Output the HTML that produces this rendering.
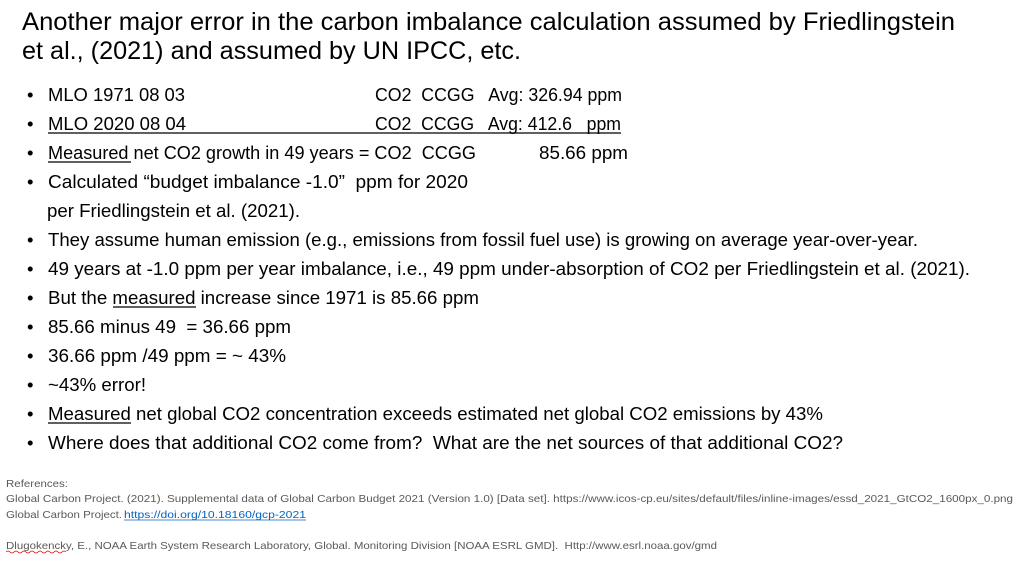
<!DOCTYPE html>
<html><head><meta charset="utf-8"><style>
html,body{margin:0;padding:0;background:#fff;}
svg{display:block;}
text{font-family:"Liberation Sans",sans-serif;fill:#000;white-space:pre;}
.t{font-size:25px;}
.b{font-size:18.5px;}
.r{font-size:10.5px;fill:#595959;}
</style></head><body>
<svg width="1023" height="563" viewBox="0 0 1023 563" xmlns="http://www.w3.org/2000/svg" xml:space="preserve">
<text class="t" x="22" y="30" textLength="933" lengthAdjust="spacingAndGlyphs">Another major error in the carbon imbalance calculation assumed by Friedlingstein</text>
<text class="t" x="22" y="59" textLength="499" lengthAdjust="spacingAndGlyphs">et al., (2021) and assumed by UN IPCC, etc.</text>
<text class="b" x="27" y="101">•</text>
<text class="b" x="48" y="101" textLength="137" lengthAdjust="spacingAndGlyphs">MLO 1971 08 03</text>
<text class="b" x="375" y="101" textLength="247" lengthAdjust="spacingAndGlyphs">CO2  CCGG   Avg: 326.94 ppm</text>
<text class="b" x="27" y="130">•</text>
<text class="b" x="48" y="130" textLength="138" lengthAdjust="spacingAndGlyphs">MLO 2020 08 04</text>
<text class="b" x="375" y="130" textLength="246" lengthAdjust="spacingAndGlyphs">CO2  CCGG   Avg: 412.6   ppm</text>
<line x1="48" y1="133" x2="621" y2="133" stroke="#000" stroke-width="1.2"/>
<text class="b" x="27" y="159">•</text>
<text class="b" x="48" y="159" textLength="428" lengthAdjust="spacingAndGlyphs">Measured net CO2 growth in 49 years = CO2  CCGG</text>
<line x1="48" y1="162" x2="131" y2="162" stroke="#000" stroke-width="1.2"/>
<text class="b" x="539" y="159" textLength="89" lengthAdjust="spacingAndGlyphs">85.66 ppm</text>
<text class="b" x="27" y="188">•</text>
<text class="b" x="48" y="188" textLength="420" lengthAdjust="spacingAndGlyphs">Calculated “budget imbalance -1.0”  ppm for 2020</text>
<text class="b" x="47" y="217" textLength="253" lengthAdjust="spacingAndGlyphs">per Friedlingstein et al. (2021).</text>
<text class="b" x="27" y="246">•</text>
<text class="b" x="48" y="246" textLength="870" lengthAdjust="spacingAndGlyphs">They assume human emission (e.g., emissions from fossil fuel use) is growing on average year-over-year.</text>
<text class="b" x="27" y="275">•</text>
<text class="b" x="48" y="275" textLength="922" lengthAdjust="spacingAndGlyphs">49 years at -1.0 ppm per year imbalance, i.e., 49 ppm under-absorption of CO2 per Friedlingstein et al. (2021).</text>
<text class="b" x="27" y="304">•</text>
<text class="b" x="48" y="304" textLength="431" lengthAdjust="spacingAndGlyphs">But the measured increase since 1971 is 85.66 ppm</text>
<line x1="113" y1="307" x2="196" y2="307" stroke="#000" stroke-width="1.2"/>
<text class="b" x="27" y="333">•</text>
<text class="b" x="48" y="333" textLength="243" lengthAdjust="spacingAndGlyphs">85.66 minus 49  = 36.66 ppm</text>
<text class="b" x="27" y="362">•</text>
<text class="b" x="48" y="362" textLength="238" lengthAdjust="spacingAndGlyphs">36.66 ppm /49 ppm = ~ 43%</text>
<text class="b" x="27" y="391">•</text>
<text class="b" x="48" y="391" textLength="98" lengthAdjust="spacingAndGlyphs">~43% error!</text>
<text class="b" x="27" y="420">•</text>
<text class="b" x="48" y="420" textLength="775" lengthAdjust="spacingAndGlyphs">Measured net global CO2 concentration exceeds estimated net global CO2 emissions by 43%</text>
<line x1="48" y1="423" x2="131" y2="423" stroke="#000" stroke-width="1.2"/>
<text class="b" x="27" y="449">•</text>
<text class="b" x="48" y="449" textLength="795" lengthAdjust="spacingAndGlyphs">Where does that additional CO2 come from?  What are the net sources of that additional CO2?</text>
<text class="r" x="6" y="487" textLength="62" lengthAdjust="spacingAndGlyphs">References:</text>
<text class="r" x="6" y="502" textLength="1007" lengthAdjust="spacingAndGlyphs">Global Carbon Project. (2021). Supplemental data of Global Carbon Budget 2021 (Version 1.0) [Data set]. https://www.icos-cp.eu/sites/default/files/inline-images/essd_2021_GtCO2_1600px_0.png</text>
<text class="r" x="6" y="518" textLength="116" lengthAdjust="spacingAndGlyphs">Global Carbon Project.</text>
<text class="r" x="124" y="518" textLength="182" lengthAdjust="spacingAndGlyphs" style="fill:#0563c1">https://doi.org/10.18160/gcp-2021</text>
<line x1="124" y1="520" x2="306" y2="520" stroke="#0563c1" stroke-width="0.8"/>
<text class="r" x="6" y="549" textLength="711" lengthAdjust="spacingAndGlyphs">Dlugokencky, E., NOAA Earth System Research Laboratory, Global. Monitoring Division [NOAA ESRL GMD].  Http://www.esrl.noaa.gov/gmd</text>
<path d="M6 552 q2 -2 4 0 t4 0 t4 0 t4 0 t4 0 t4 0 t4 0 t4 0 t4 0 t4 0 t4 0 t4 0 t4 0 t4 0 t4 0" stroke="#e00" stroke-width="0.7" fill="none"/>
</svg>
</body></html>
